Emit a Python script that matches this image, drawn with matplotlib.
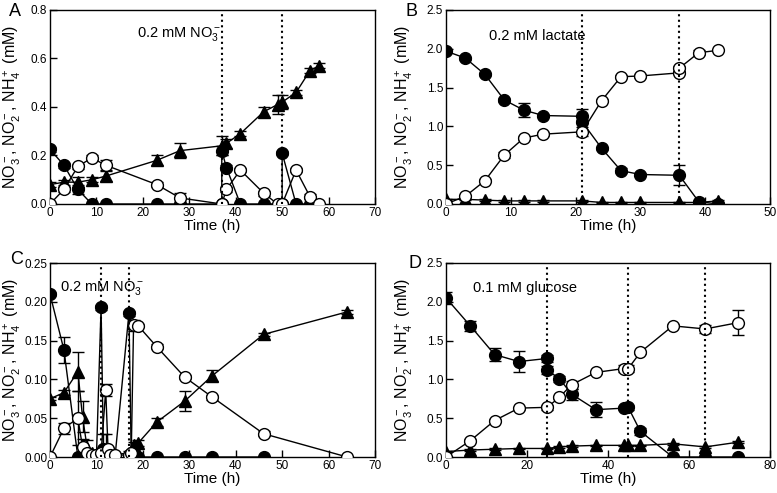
import matplotlib
matplotlib.use("Agg")
import matplotlib.pyplot as plt

plt.rcParams['font.family'] = ['Liberation Sans', 'DejaVu Sans']
plt.rcParams['mathtext.fontset'] = 'custom'
plt.rcParams['mathtext.rm'] = 'Liberation Sans'
plt.rcParams['mathtext.it'] = 'Liberation Sans:italic'
plt.rcParams['mathtext.bf'] = 'Liberation Sans:bold'

# ---------------- Panel A : 0.2 mM NO3- ----------------
a_no3_x = [0, 3, 6, 9, 12, 23, 28, 37, 37, 38, 41, 46, 50, 50, 53, 56]
a_no3_y = [0.225, 0.16, 0.06, 0, 0, 0, 0, 0, 0.22, 0.15, 0, 0, 0, 0.21, 0, 0]
a_no3_e = [0.01, 0.01, 0.02, 0, 0, 0, 0, 0, 0.02, 0.01, 0, 0, 0, 0.01, 0, 0]
a_no2_x = [0, 3, 6, 9, 12, 23, 28, 37, 38, 41, 46, 49, 50, 53, 56, 58]
a_no2_y = [0, 0.06, 0.155, 0.19, 0.16, 0.08, 0.025, 0, 0.06, 0.14, 0.045, 0, 0, 0.14, 0.03, 0]
a_no2_e = [0, 0.01, 0.01, 0.01, 0.02, 0.01, 0.02, 0, 0.01, 0.01, 0.01, 0, 0, 0.01, 0.01, 0]
a_nh4_x = [0, 3, 6, 9, 12, 23, 28, 37, 38, 41, 46, 49, 50, 53, 56, 58]
a_nh4_y = [0.08, 0.09, 0.09, 0.10, 0.115, 0.18, 0.22, 0.24, 0.25, 0.29, 0.38, 0.41, 0.42, 0.46, 0.55, 0.57]
a_nh4_e = [0.01, 0.01, 0.02, 0.01, 0.02, 0.02, 0.03, 0.04, 0.02, 0.01, 0.02, 0.04, 0.03, 0.01, 0.01, 0.01]
a_pulses = [37, 50]

# ---------------- Panel B : 0.2 mM lactate ----------------
b_no3_x = [0, 3, 6, 9, 12, 15, 21, 21, 24, 27, 30, 36, 39, 42]
b_no3_y = [1.97, 1.88, 1.67, 1.34, 1.21, 1.14, 1.13, 1.06, 0.72, 0.43, 0.38, 0.37, 0.03, 0.0]
b_no3_e = [0.03, 0.02, 0.02, 0.03, 0.09, 0.02, 0.09, 0.02, 0.02, 0.03, 0.02, 0.13, 0.02, 0.01]
b_no2_x = [0, 3, 6, 9, 12, 15, 21, 24, 27, 30, 36, 36, 39, 42]
b_no2_y = [0, 0.10, 0.30, 0.63, 0.85, 0.90, 0.93, 1.33, 1.64, 1.65, 1.69, 1.75, 1.95, 1.98]
b_no2_e = [0, 0.02, 0.02, 0.04, 0.02, 0.03, 0.06, 0.02, 0.02, 0.02, 0.02, 0.03, 0.03, 0.01]
b_nh4_x = [0, 3, 6, 9, 12, 15, 21, 24, 27, 30, 36, 39, 42]
b_nh4_y = [0.06, 0.06, 0.05, 0.04, 0.04, 0.04, 0.04, 0.02, 0.02, 0.02, 0.02, 0.02, 0.04]
b_nh4_e = [0.01, 0.01, 0.01, 0.01, 0.01, 0.01, 0.01, 0.01, 0.01, 0.01, 0.01, 0.01, 0.01]
b_pulses = [21, 36]

# ---------------- Panel C : 0.2 mM NO3- ----------------
c_no3_x = [0, 3, 6, 7, 8, 9, 10, 11, 11.5, 12, 13, 14, 17, 17.5, 18, 19, 23, 29, 35, 46]
c_no3_y = [0.21, 0.138, 0, 0, 0, 0, 0, 0.193, 0.01, 0.005, 0, 0, 0.185, 0, 0, 0, 0, 0, 0, 0]
c_no3_e = [0.003, 0.017, 0, 0, 0, 0, 0, 0.003, 0.02, 0, 0, 0, 0.003, 0, 0, 0, 0, 0, 0, 0]
c_no2_x = [0, 3, 6, 7, 8, 9, 10, 11, 12, 12.5, 13, 14, 17, 17.5, 18, 19, 23, 29, 35, 46, 64]
c_no2_y = [0, 0.037, 0.05, 0.013, 0.005, 0.003, 0.003, 0.005, 0.086, 0.01, 0.003, 0.002,
           0.003, 0.005, 0.17, 0.169, 0.142, 0.103, 0.077, 0.03, 0]
c_no2_e = [0, 0.007, 0.035, 0.01, 0.003, 0, 0, 0.003, 0.008, 0.003, 0, 0,
           0, 0.003, 0.007, 0.002, 0.003, 0.003, 0.003, 0.003, 0]
c_nh4_x = [0, 3, 6, 7, 8, 9, 11, 12, 13, 17, 18, 19, 23, 29, 35, 46, 64]
c_nh4_y = [0.075, 0.083, 0.11, 0.052, 0.012, 0.005, 0.005, 0.01, 0.003, 0.005, 0.015,
           0.018, 0.045, 0.072, 0.105, 0.158, 0.187]
c_nh4_e = [0.002, 0.003, 0.025, 0.02, 0.01, 0.003, 0.003, 0.02, 0.002, 0.003, 0.004,
           0.004, 0.005, 0.013, 0.007, 0.002, 0.003]
c_pulses = [11, 17]

# ---------------- Panel D : 0.1 mM glucose ----------------
d_no3_x = [0, 6, 12, 18, 25, 25, 28, 31, 37, 44, 45, 48, 56, 64, 72]
d_no3_y = [2.05, 1.69, 1.32, 1.23, 1.27, 1.12, 1.01, 0.81, 0.61, 0.63, 0.64, 0.33, 0, 0, 0]
d_no3_e = [0.08, 0.06, 0.08, 0.13, 0.05, 0.05, 0.04, 0.07, 0.10, 0.03, 0.03, 0.05, 0, 0, 0]
d_no2_x = [0, 6, 12, 18, 25, 28, 31, 37, 44, 45, 48, 56, 64, 72]
d_no2_y = [0, 0.21, 0.47, 0.63, 0.64, 0.77, 0.93, 1.09, 1.14, 1.14, 1.35, 1.69, 1.65, 1.73]
d_no2_e = [0, 0.02, 0.02, 0.02, 0.03, 0.02, 0.05, 0.02, 0.05, 0.04, 0.02, 0.02, 0.05, 0.16]
d_nh4_x = [0, 6, 12, 18, 25, 28, 31, 37, 44, 45, 48, 56, 64, 72]
d_nh4_y = [0.07, 0.09, 0.10, 0.11, 0.11, 0.13, 0.14, 0.15, 0.15, 0.15, 0.15, 0.17, 0.13, 0.19]
d_nh4_e = [0.01] * 14
d_pulses = [25, 45, 64]

panels = [
    dict(letter='A', rect=[50, 10, 375, 204], xlim=70, xticks=[0, 10, 20, 30, 40, 50, 60, 70],
         ylim=0.8, yticks=[0.0, 0.2, 0.4, 0.6, 0.8], yfmt='{:.1f}',
         no3=(a_no3_x, a_no3_y, a_no3_e), no2=(a_no2_x, a_no2_y, a_no2_e), nh4=(a_nh4_x, a_nh4_y, a_nh4_e),
         pulses=a_pulses, text='0.2 mM NO$_3^-$', tx=18.8, ty=0.70, letpos=(15, 12), ylab=-0.082),
    dict(letter='B', rect=[446, 10, 770, 204], xlim=50, xticks=[0, 10, 20, 30, 40, 50],
         ylim=2.5, yticks=[0.0, 0.5, 1.0, 1.5, 2.0, 2.5], yfmt='{:.1f}',
         no3=(b_no3_x, b_no3_y, b_no3_e), no2=(b_no2_x, b_no2_y, b_no2_e), nh4=(b_nh4_x, b_nh4_y, b_nh4_e),
         pulses=b_pulses, text='0.2 mM lactate', tx=6.7, ty=2.16, letpos=(411, 12), ylab=-0.096),
    dict(letter='C', rect=[50, 263, 375, 457], xlim=70, xticks=[0, 10, 20, 30, 40, 50, 60, 70],
         ylim=0.25, yticks=[0.0, 0.05, 0.10, 0.15, 0.20, 0.25], yfmt='{:.2f}',
         no3=(c_no3_x, c_no3_y, c_no3_e), no2=(c_no2_x, c_no2_y, c_no2_e), nh4=(c_nh4_x, c_nh4_y, c_nh4_e),
         pulses=c_pulses, text='0.2 mM NO$_3^-$', tx=2.2, ty=0.218, letpos=(17, 260), ylab=-0.082),
    dict(letter='D', rect=[446, 263, 770, 457], xlim=80, xticks=[0, 20, 40, 60, 80],
         ylim=2.5, yticks=[0.0, 0.5, 1.0, 1.5, 2.0, 2.5], yfmt='{:.1f}',
         no3=(d_no3_x, d_no3_y, d_no3_e), no2=(d_no2_x, d_no2_y, d_no2_e), nh4=(d_nh4_x, d_nh4_y, d_nh4_e),
         pulses=d_pulses, text='0.1 mM glucose', tx=6.7, ty=2.18, letpos=(415, 264), ylab=-0.096),
]

W, H = 777, 493
fig = plt.figure(figsize=(W / 100, H / 100), dpi=100)

ylabel = 'NO$_3^-$, NO$_2^-$, NH$_4^+$ (mM)'
ms = 8.5
for p in panels:
    l, t, r, b = p['rect']
    ax = fig.add_axes([l / W, 1 - b / H, (r - l) / W, (b - t) / H])
    # NH4+ triangles
    x, y, e = p['nh4']
    ax.errorbar(x, y, yerr=e, fmt='-^', color='black', mfc='black', mec='black', ms=ms,
                lw=1, elinewidth=1, capsize=4, capthick=1, zorder=2)
    # NO3- filled circles
    x, y, e = p['no3']
    ax.errorbar(x, y, yerr=e, fmt='-o', color='black', mfc='black', mec='black', ms=ms,
                lw=1, elinewidth=1, capsize=4, capthick=1, zorder=3)
    # NO2- open circles
    x, y, e = p['no2']
    ax.errorbar(x, y, yerr=e, fmt='-o', color='black', mfc='white', mec='black', ms=ms,
                mew=1, lw=1, elinewidth=1, capsize=4, capthick=1, zorder=4)
    for xp in p['pulses']:
        ax.axvline(xp, color='black', ls=':', lw=1.5, zorder=6)
    ax.set_xlim(0, p['xlim'])
    ax.set_ylim(0, p['ylim'])
    ax.set_xticks(p['xticks'])
    ax.set_yticks(p['yticks'])
    ax.set_yticklabels([p['yfmt'].format(v) for v in p['yticks']])
    ax.tick_params(direction='in', length=5, width=1, labelsize=8.5, pad=2)
    for s in ax.spines.values():
        s.set_linewidth(1)
    ax.set_xlabel('Time (h)', fontsize=11, labelpad=0)
    ax.set_ylabel(ylabel, fontsize=11.5)
    ax.yaxis.set_label_coords(p['ylab'], 0.5)
    ax.text(p['tx'], p['ty'], p['text'], fontsize=10.5, ha='left', va='center', zorder=7)
    lx, ly = p['letpos']
    fig.text(lx / W, 1 - ly / H, p['letter'], fontsize=13, ha='center', va='center')

fig.savefig('out.png', dpi=100)
